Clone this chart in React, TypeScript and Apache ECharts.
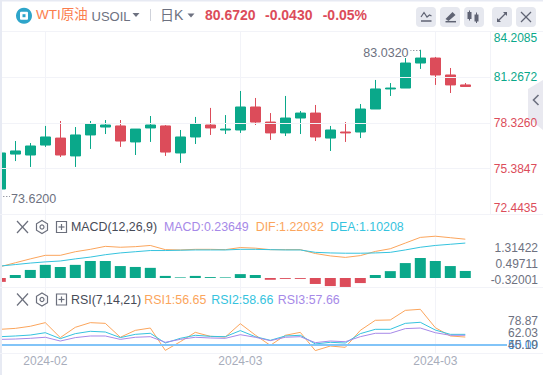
import React, { useEffect, useRef } from "react";
import * as echarts from "echarts";

const opens = [74.07,76.32,76.26,76.90,77.35,76.20,77.55,78.06,78.13,77.10,78.00,78.13,76.39,77.42,78.19,77.87,77.87,79.35,78.38,77.68,78.64,78.96,77.35,77.74,77.74,79.22,80.51,80.57,82.18,82.50,81.41,80.77];
const closes = [76.39,76.52,76.84,77.42,76.26,77.55,78.26,78.19,77.16,77.93,78.19,76.45,77.42,78.26,78.00,77.93,79.35,78.38,77.68,78.64,78.96,77.42,77.87,77.68,79.22,80.51,80.57,82.18,82.50,81.41,80.77,80.67];
const lows = [73.62,75.87,75.49,76.78,76.13,75.49,76.65,77.61,76.78,76.26,77.10,76.20,75.75,76.97,77.55,77.61,77.68,78.19,77.23,77.48,77.61,77.16,76.52,77.10,77.35,79.22,80.06,80.57,81.80,80.77,80.25,80.67];
const highs = [76.39,77.16,77.03,78.13,78.45,78.06,78.45,78.51,78.51,77.93,78.77,78.19,77.87,78.71,79.29,78.83,80.38,79.93,78.96,80.06,79.09,79.48,78.13,78.38,79.54,81.09,80.89,82.50,83.032,82.57,81.86,80.89];
const macdBars = [-0.13,0.10,0.27,0.44,0.37,0.44,0.57,0.57,0.40,0.37,0.34,0.07,0.02,0.07,0.03,0.02,0.13,0.10,-0.06,-0.03,-0.03,-0.20,-0.27,-0.30,-0.17,0.10,0.23,0.50,0.67,0.57,0.40,0.236];
const difLine = [0.38,0.51,0.64,0.76,0.76,0.88,0.96,1.06,1.03,1.05,1.09,0.95,0.94,0.96,0.96,0.95,1.02,1.00,0.95,0.95,0.95,0.82,0.74,0.69,0.75,0.89,0.98,1.17,1.36,1.40,1.35,1.30];
const deaLine = [0.40,0.45,0.50,0.54,0.57,0.64,0.70,0.78,0.84,0.88,0.92,0.92,0.93,0.94,0.94,0.94,0.96,0.96,0.95,0.94,0.94,0.86,0.84,0.83,0.83,0.84,0.86,0.94,1.03,1.09,1.13,1.17];
const rsi1 = [63.4,64.2,66.0,69.1,56.3,65.1,69.1,68.5,56.6,62.5,64.5,45.4,52.8,60.8,57.4,56.8,68.2,58.5,49.7,58.3,60.8,45.2,49.1,48.0,62.5,71.1,71.4,79.6,80.5,64.8,57.7,56.8];
const rsi2 = [57.1,57.7,58.5,60.5,55.4,59.7,61.7,61.1,56.3,59.1,60.0,51.7,55.7,58.3,57.4,57.1,62.3,57.1,54.0,57.7,58.3,50.9,52.3,51.7,59.7,63.4,63.4,68.5,69.4,62.8,59.1,59.1];
const rsi3 = [54.8,55.1,55.7,56.6,53.4,56.3,57.7,57.7,54.8,56.6,57.1,52.3,54.8,56.6,56.0,55.7,58.8,56.6,53.7,56.6,57.1,52.0,53.4,52.8,57.1,60.0,60.0,64.0,64.5,60.5,58.3,58.3];

const priceTicks = [72.4435, 75.3847, 78.326, 81.2672, 84.2085];
const macdTicks = [-0.32001, 0.49711, 1.31422];
const rsiTicks = [45.19, 62.03, 78.87];
const monthTicks = [3, 16, 29];
const monthLabels = ["2024-02", "2024-03", "2024-03"];
const currentPrice = 80.672;
const highValue = 83.032;
const lowValue = 73.62;

const GREEN = "#0aa88a";
const RED = "#dc4c5a";
const ORANGE = "#fba55c";
const CYAN = "#35c3de";
const PURPLE = "#a689e8";
const GRID = "#f2f3f8";
const GREY = "#6d7180";
const ICON = "#5f6373";
const FONT = "'Liberation Sans','Noto Sans CJK SC',sans-serif";

const indexed = (a: number[]) => a.map((v, i) => [i, v]);
const txt = (x: number, y: number, text: string, fill: string, fontSize = 12, fontWeight: any = "normal") => ({
  type: "text", x, y, z: 20,
  style: { text, fill, fontSize, fontWeight, fontFamily: FONT, verticalAlign: "middle", textAlign: "left" },
});
const ln = (x1: number, y1: number, x2: number, y2: number, stroke: string, lineWidth = 1) => ({
  type: "line", z: 20, shape: { x1, y1, x2, y2 }, style: { stroke, lineWidth },
});
const rct = (x: number, y: number, width: number, height: number, fill: string, r = 0, z = 10) => ({
  type: "rect", z, shape: { x, y, width, height, r }, style: { fill },
});
const tri = (cx: number, cy: number, fill: string) => ({
  type: "polygon", z: 20, shape: { points: [[cx - 3.5, cy - 2], [cx + 3.5, cy - 2], [cx, cy + 2]] }, style: { fill },
});
const rowIcons = (y: number) => [
  ln(17, y - 6, 28, y + 6, "#6b6f7c", 1.2),
  ln(28, y - 6, 17, y + 6, "#6b6f7c", 1.2),
  {
    type: "polygon", z: 20,
    shape: { points: [[42, y - 6.5], [47.5, y - 3.2], [47.5, y + 3.2], [42, y + 6.5], [36.5, y + 3.2], [36.5, y - 3.2]] },
    style: { fill: "none", stroke: "#6b6f7c", lineWidth: 1.2 },
  },
  { type: "circle", z: 20, shape: { cx: 42, cy: y, r: 2 }, style: { fill: "none", stroke: "#6b6f7c", lineWidth: 1.2 } },
  { type: "rect", z: 20, shape: { x: 56.5, y: y - 5.5, width: 10, height: 11 }, style: { fill: "none", stroke: "#6b6f7c", lineWidth: 1.2 } },
  ln(58.5, y, 64.5, y, "#6b6f7c", 1.2),
  ln(61.5, y - 3, 61.5, y + 3, "#6b6f7c", 1.2),
];

const graphics: any[] = [
  rct(0, 0, 543, 1.5, "#e7eaf3"),
  rct(0, 0, 2, 375, "#e7eaf3"),
  rct(2, 31, 541, 1, GRID),
  rct(0, 214, 543, 1, GRID),
  rct(0, 287, 543, 1, GRID),
  rct(0, 353, 543, 1, GRID),
  // header
  { type: "circle", z: 20, shape: { cx: 24, cy: 15.7, r: 8 }, style: { fill: "#2ea5ca" } },
  rct(20, 11.7, 8, 8, "#ffffff", 1, 21),
  rct(22.5, 14.2, 3, 3, "#2ea5ca", 0, 22),
  txt(36, 14.5, "WTI原油", "#fb7d4d", 13.5),
  txt(91.5, 16, "USOIL", GREY, 13),
  tri(136, 15, GREY),
  ln(150.5, 9, 150.5, 21, "#cfd2da"),
  txt(160, 14.5, "日K", GREY, 14),
  tri(191, 15.5, GREY),
  txt(205, 14.5, "80.6720", RED, 14, "bold"),
  txt(265, 14.5, "-0.0430", RED, 14, "bold"),
  txt(322.7, 14.5, "-0.05%", RED, 14, "bold"),
  // toolbar
  ...[416, 440, 464, 492, 516].map((x) => rct(x, 7, 20, 20, "#e6e8ef", 4)),
  { type: "polyline", z: 20, shape: { points: [[421, 17], [424, 12.5], [427, 17], [429.5, 15], [431.5, 16]] }, style: { fill: "none", stroke: ICON, lineWidth: 1.2 } },
  ln(421, 21, 431.5, 21, ICON, 1.5),
  { type: "polygon", z: 20, shape: { points: [[445.5, 19], [452.5, 12], [455.5, 15], [448.5, 21]] }, style: { fill: ICON } },
  ln(445.5, 21.7, 456, 21.7, ICON, 1.5),
  rct(467.5, 12, 4, 7, ICON, 0, 20), ln(469.5, 10.5, 469.5, 20.5, ICON),
  rct(474.5, 14.5, 4, 7, ICON, 0, 20), ln(476.5, 12.5, 476.5, 23, ICON),
  ln(498, 21, 506, 13, ICON, 1.2),
  { type: "polygon", z: 20, shape: { points: [[503, 12], [507, 12], [507, 16]] }, style: { fill: ICON } },
  { type: "polygon", z: 20, shape: { points: [[497, 18], [497, 22], [501, 22]] }, style: { fill: ICON } },
  ln(521, 12, 531, 22, ICON, 1.2),
  ln(531, 12, 521, 22, ICON, 1.2),
  // collapse tab
  { type: "polygon", z: -1, shape: { points: [[543, 80], [528, 89], [528, 118], [543, 130]] }, style: { fill: "#e9e9f0" } },
  { type: "polyline", z: 20, shape: { points: [[538.5, 95], [533.5, 100], [538.5, 105]] }, style: { fill: "none", stroke: GREY, lineWidth: 1.6 } },
  // panel legends
  ...rowIcons(227),
  txt(71, 227, "MACD(12,26,9)", "#474b57", 12.4),
  txt(164, 227, "MACD:0.23649", PURPLE, 12.4),
  txt(255.7, 227, "DIF:1.22032", ORANGE, 12.4),
  txt(330, 227, "DEA:1.10208", CYAN, 12.4),
  ...rowIcons(299.5),
  txt(71, 299.5, "RSI(7,14,21)", "#474b57", 12.4),
  txt(144.3, 299.5, "RSI1:56.65", ORANGE, 12.4),
  txt(211.3, 299.5, "RSI2:58.66", CYAN, 12.4),
  txt(277.7, 299.5, "RSI3:57.66", PURPLE, 12.4),
];

const LEFT = 2;
const xMin = (LEFT - 0.3) / 15;
const xMax = (490.3 - 0.3) / 15;
const xMaxRsi = (507 - 0.3) / 15;

const xAxisBase = (gridIndex: number, max: number, showLabel: boolean) => ({
  type: "value", gridIndex, min: xMin, max,
  axisLine: { show: false },
  axisTick: { show: false, customValues: monthTicks },
  splitLine: { show: true, lineStyle: { color: GRID, width: 1 } },
  axisLabel: {
    show: showLabel, customValues: monthTicks, color: "#a8adbb", fontSize: 12, margin: 2, fontFamily: FONT,
    formatter: (v: number) => monthLabels[monthTicks.indexOf(Math.round(v))],
  },
});
const line = (name: string, data: number[], color: string, xAxisIndex: number, yAxisIndex: number, extra: any = {}) => ({
  type: "line", name, data: indexed(data), xAxisIndex, yAxisIndex, showSymbol: false, symbol: "none",
  lineStyle: { color, width: 1 }, itemStyle: { color }, z: 3, ...extra,
});

const option: any = {
  animation: false,
  textStyle: { fontFamily: FONT },
  grid: [
    { left: LEFT, top: 31.5, width: 488.3, height: 182.8 },
    { left: LEFT, top: 214, width: 488.3, height: 73 },
    { left: LEFT, top: 287, width: 505, height: 66.3 },
  ],
  xAxis: [xAxisBase(0, xMax, false), xAxisBase(1, xMax, false), xAxisBase(2, xMaxRsi, true)],
  yAxis: [
    {
      type: "value", gridIndex: 0, position: "right", min: 72.4435, max: 84.2085, z: 5,
      axisLine: { show: true, lineStyle: { color: GRID } },
      axisTick: { show: false, customValues: priceTicks },
      splitLine: { show: true, lineStyle: { color: GRID } },
      axisLabel: {
        customValues: priceTicks, fontSize: 12, margin: 3.5, fontFamily: FONT,
        verticalAlignMaxLabel: "top", verticalAlignMinLabel: "bottom",
        color: (v: number) => (v >= currentPrice ? GREEN : RED),
        formatter: (v: number) => v.toFixed(4),
      },
    },
    { type: "value", gridIndex: 1, position: "right", min: -0.3015, max: 2.144, show: false },
    {
      type: "value", gridIndex: 1, position: "right", min: -0.703, max: 3.066, z: 5,
      axisLine: { show: false }, splitLine: { show: false },
      axisTick: { show: false, customValues: macdTicks },
      axisLabel: {
        customValues: macdTicks, fontSize: 12, margin: 47.7, align: "right", color: GREY, fontFamily: FONT,
        formatter: (v: number) => v.toFixed(5),
      },
    },
    { type: "value", gridIndex: 2, position: "right", min: 42.9, max: 99.57, show: false },
    {
      type: "value", gridIndex: 2, position: "right", min: 33.4, max: 127.6, z: 5,
      axisLine: { show: false }, splitLine: { show: false },
      axisTick: { show: false, customValues: rsiTicks },
      axisLabel: {
        customValues: rsiTicks, fontSize: 12, margin: 31, align: "right", color: GREY, fontFamily: FONT,
        formatter: (v: number) => v.toFixed(2),
      },
    },
  ],
  graphic: { elements: graphics },
  series: [
    {
      type: "candlestick", name: "USOIL", xAxisIndex: 0, yAxisIndex: 0, barWidth: 10,
      data: opens.map((o, i) => [i, o, closes[i], lows[i], highs[i]]),
      itemStyle: { color: GREEN, color0: RED, borderColor: GREEN, borderColor0: RED, borderWidth: 1 },
      markLine: {
        silent: true, symbol: "none", animation: false,
        lineStyle: { color: GREY, type: [1, 2], width: 1 },
        data: [
          [
            { coord: [28, highValue], label: { show: true, position: "end", formatter: highValue.toFixed(4), color: GREY, fontSize: 12.5, distance: 2, offset: [0, 3], fontFamily: FONT } },
            { coord: [27.35, highValue] },
          ],
          [
            { coord: [0.2, lowValue], label: { show: true, position: "end", formatter: lowValue.toFixed(4), color: GREY, fontSize: 12.5, distance: 1, offset: [0, 3], fontFamily: FONT } },
            { coord: [0.65, lowValue] },
          ],
        ],
      },
    },
    {
      type: "bar", name: "MACD", xAxisIndex: 1, yAxisIndex: 1, barWidth: 11, z: 2,
      data: macdBars.map((v, i) => ({ value: [i, v], itemStyle: { color: v >= 0 ? GREEN : RED } })),
    },
    line("DIF", difLine, ORANGE, 1, 1),
    line("DEA", deaLine, CYAN, 1, 1),
    line("RSI1", rsi1, ORANGE, 2, 3, {
      markLine: {
        silent: true, symbol: "none", animation: false,
        lineStyle: { color: "#82c4f8", width: 2, type: "solid" },
        label: { show: true, position: "end", formatter: "50.00", color: "#3399ee", fontSize: 12, distance: 1, fontFamily: FONT },
        data: [{ yAxis: 50 }],
      },
    }),
    line("RSI2", rsi2, CYAN, 2, 3),
    line("RSI3", rsi3, PURPLE, 2, 3),
  ],
};

export default function App() {
  const ref = useRef<HTMLDivElement>(null);
  useEffect(() => {
    const chart = echarts.init(ref.current!, undefined, { renderer: "svg" });
    chart.setOption(option);
    return () => chart.dispose();
  }, []);
  return <div ref={ref} style={{ position: "absolute", left: 0, top: 0, width: 543, height: 375, background: "#fff" }} />;
}
